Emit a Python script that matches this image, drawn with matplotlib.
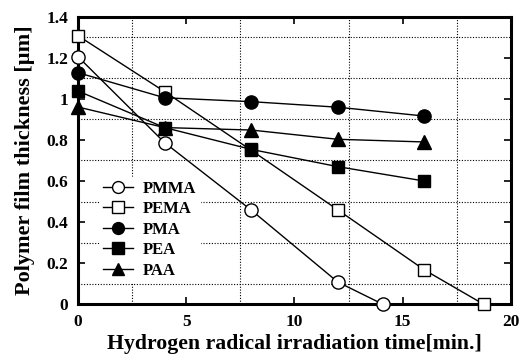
import numpy as np
import matplotlib.pyplot as plt
from matplotlib.ticker import MultipleLocator

plt.rcParams['font.family'] = ['Liberation Serif', 'DejaVu Serif']
plt.rcParams['font.weight'] = 'bold'

# datos
t_pmma = [0, 4, 8, 12, 14.1]
pmma = [1.205, 0.787, 0.459, 0.109, 0.0]
t_pema = [0, 4, 8, 12, 16, 18.75]
pema = [1.307, 1.035, 0.75, 0.46, 0.168, 0.0]
t_std = [0, 4, 8, 12, 16]
pma = [1.127, 1.005, 0.986, 0.959, 0.916]
pea = [1.038, 0.86, 0.754, 0.67, 0.60]
paa = [0.96, 0.86, 0.848, 0.803, 0.79]

# (x, y, etiqueta, marcador, relleno, tamaño)
series = [
    (t_pmma, pmma, "PMMA", "o", "white", 9.5),
    (t_pema, pema, "PEMA", "s", "white", 9),
    (t_std, pma, "PMA", "o", "black", 9.5),
    (t_std, pea, "PEA", "s", "black", 9),
    (t_std, paa, "PAA", "^", "black", 10),
]

fig = plt.figure(figsize=(5.23, 3.59), dpi=100)
ax = fig.add_axes([0.149, 0.152, 0.828, 0.802])

for x, y, label, m, fc, ms in series:
    ax.plot(x, y, color="black", linewidth=1.0, marker=m, markersize=ms,
            markerfacecolor=fc, markeredgecolor="black", markeredgewidth=1.0,
            label=label, clip_on=False, zorder=3)

ax.set_xlim(0, 20)
ax.set_ylim(0, 1.4)
ax.xaxis.set_major_locator(MultipleLocator(5))
ax.xaxis.set_minor_locator(MultipleLocator(2.5))
ax.yaxis.set_minor_locator(MultipleLocator(0.1))
ax.set_yticks(np.arange(0, 1.41, 0.2))
ax.set_yticklabels(["0", "0.2", "0.4", "0.6", "0.8", "1", "1.2", "1.4"])

# grilla punteada solo en las posiciones menores
ax.grid(True, which="minor", linestyle=(0, (1, 1.5)), color="black", linewidth=0.8)
ax.grid(False, which="major")
ax.tick_params(which="major", direction="in", length=5, width=1.2,
               top=True, right=True, labelsize=12.5, pad=7)
ax.tick_params(which="minor", length=0)
for s in ax.spines.values():
    s.set_linewidth(2.2)

ax.set_xlabel("Hydrogen radical irradiation time[min.]", fontsize=15.7,
              fontweight="bold", labelpad=3)
ax.set_ylabel("Polymer film thickness [\u00b5m]", fontsize=16,
              fontweight="bold", labelpad=8)

# leyenda con fondo blanco y sin borde (tapa la grilla)
leg = ax.legend(loc="lower left", bbox_to_anchor=(0.05, 0.078), frameon=True,
                fontsize=12, handlelength=1.8, handletextpad=0.6,
                labelspacing=0.27, borderpad=0.2, borderaxespad=0,
                fancybox=False, markerscale=0.9)
leg.get_frame().set_edgecolor("white")
leg.get_frame().set_facecolor("white")
leg.get_frame().set_alpha(1)
leg.set_zorder(2)

fig.savefig("out.png", dpi=100)
